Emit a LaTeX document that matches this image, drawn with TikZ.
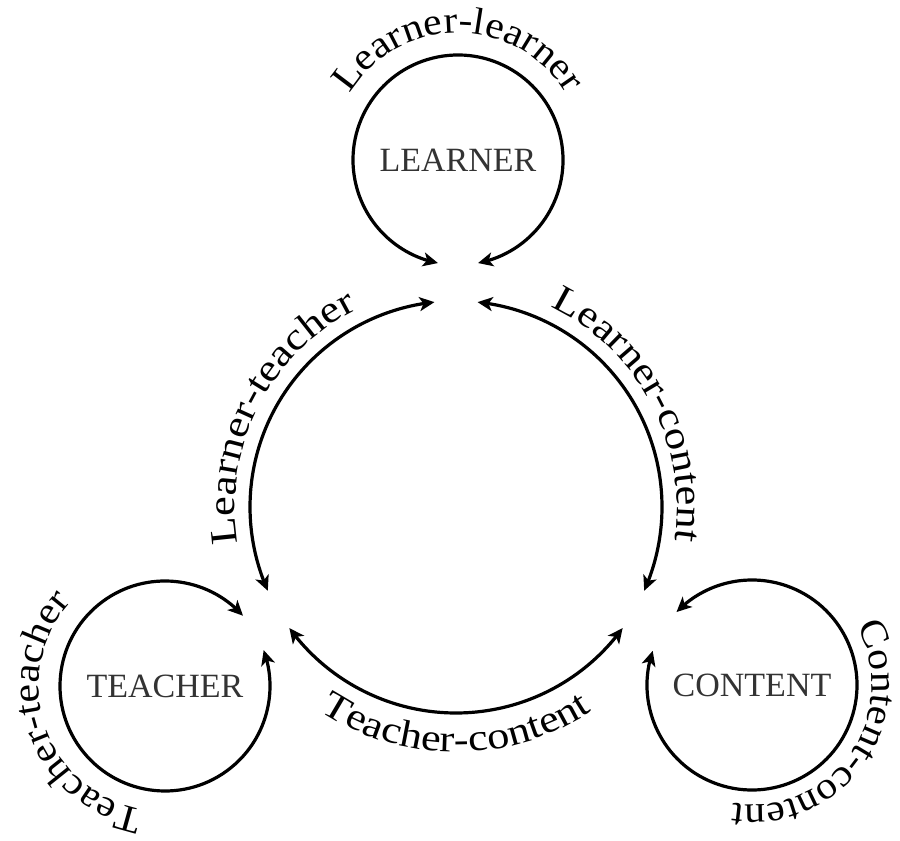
\documentclass[tikz,border=0pt]{standalone}
\usepackage{fontspec}
\newfontfamily\lblserif[FakeStretch=1.1]{Liberation Serif}
\newfontfamily\widelblserif[FakeStretch=1.17]{Liberation Serif}
\newfontfamily\capserif{Liberation Serif}
\usetikzlibrary{arrows.meta,bending,decorations.text}
\newcommand\arclbl{\lblserif\fontsize{38}{40}\selectfont}
\newcommand\mainlbl{\widelblserif\fontsize{38}{40}\selectfont}
\newcommand\nodelbl{\capserif\fontsize{34}{38}\selectfont}
\begin{document}
\begin{tikzpicture}[x=1pt,y=1pt,
  tip/.tip={Stealth[length=15pt,width=14pt,inset=4pt]},
  conn/.style={line width=3.2pt,{tip}-{tip}},
  lbl/.style={font=\nodelbl,text=black!80},
  looptext/.style={decorate,decoration={text along path,text align=center,text={|\arclbl|#1}}},
  maintext/.style={decorate,decoration={text along path,text align=center,text={|\mainlbl|#1}}}]
\useasboundingbox (0,0) rectangle (900,841);
\coordinate (M) at (456,334);
\coordinate (LL) at (458,681);
\coordinate (TL) at (165,155);
\coordinate (CL) at (752,156);
% vertex labels
\node[lbl] (learner) at (LL) {LEARNER};
\node[lbl] (teacher) at (TL) {TEACHER};
\node[lbl] (content) at (CL) {CONTENT};
% self loops
\coordinate (llS) at ([shift={(-79:105)}]LL);
\draw[conn] (llS) arc[start angle=-79,end angle=259,radius=105];
\coordinate (ttS) at ([shift={(42:105)}]TL);
\draw[conn] (ttS) arc[start angle=42,end angle=380,radius=105];
\coordinate (ccS) at ([shift={(161:105)}]CL);
\draw[conn] (ccS) arc[start angle=161,end angle=496,radius=105];
% main arcs
\coordinate (ltS) at ([shift={(96:206)}]M);
\draw[conn] (ltS) arc[start angle=96,end angle=204,radius=206];
\coordinate (tcS) at ([shift={(216:206)}]M);
\draw[conn] (tcS) arc[start angle=216,end angle=324,radius=206];
\coordinate (clS) at ([shift={(336:206)}]M);
\draw[conn] (clS) arc[start angle=336,end angle=444,radius=206];
% labels on main arcs
\path[maintext={Learner-teacher}] ([shift={(213:221)}]M) arc[start angle=213,end angle=93,radius=221];
\path[maintext={Learner-content}] ([shift={(88:221)}]M) arc[start angle=88,end angle=-32,radius=221];
\path[maintext={Teacher-content}] ([shift={(210:245)}]M) arc[start angle=210,end angle=330,radius=245];
% labels on loops
\path[looptext={Learner-learner}] ([shift={(165:127)}]LL) arc[start angle=165,end angle=15,radius=127];
\path[looptext={Teacher-teacher}] ([shift={(274:126)}]TL) arc[start angle=274,end angle=124,radius=126];
\path[looptext={Content-content}] ([shift={(42:120)}]CL) arc[start angle=42,end angle=-112,radius=120];
\end{tikzpicture}
\end{document}
